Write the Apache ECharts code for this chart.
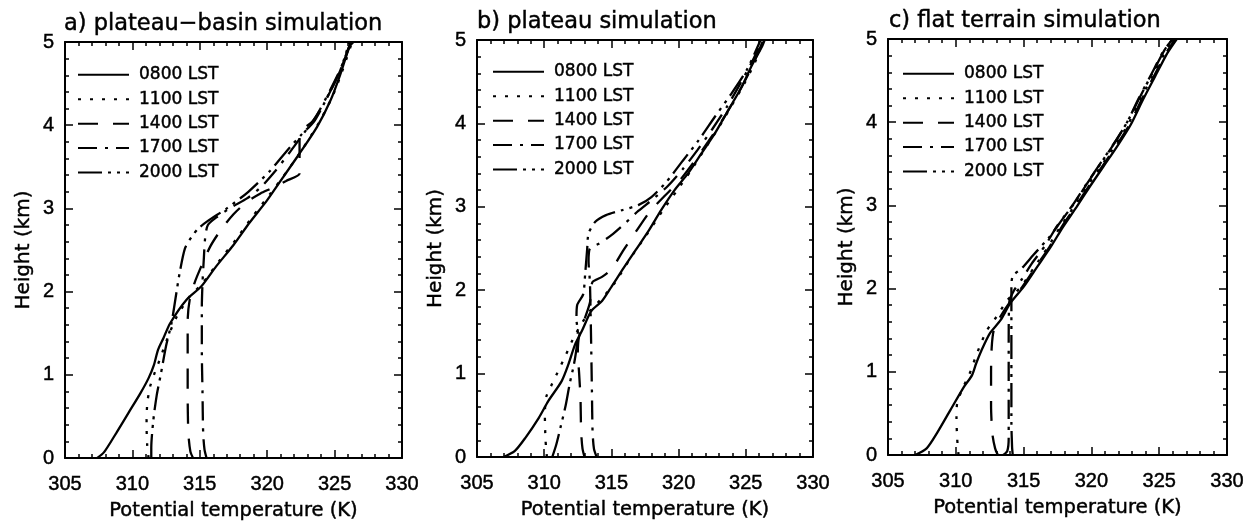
<!DOCTYPE html>
<html><head><meta charset="utf-8">
<script src="https://cdn.jsdelivr.net/npm/echarts@6/dist/echarts.min.js"></script>
<style>html,body{margin:0;padding:0;background:#fff}#c{width:1251px;height:523px}</style>
</head><body><div id="c"></div>
<script>
// ---------- data ----------
const times = ['0800 LST', '1100 LST', '1400 LST', '1700 LST', '2000 LST'];
const panelTitles = ['a) plateau\u2212basin simulation', 'b) plateau simulation', 'c) flat terrain simulation'];
const xTickLabels = [305, 310, 315, 320, 325, 330];
const yTickLabels = [0, 1, 2, 3, 4, 5];
const xName = 'Potential temperature (K)';
const yName = 'Height (km)';

// panel a : plateau-basin  [theta (K), height (km)]
const a0800 = [[307.4,0],[307.9,0.07],[308.8,0.3],[309.7,0.54],[310.6,0.78],[311.2,0.96],[311.6,1.12],[311.9,1.3],[312.3,1.44],[312.8,1.62],[314.0,1.9],[315.1,2.06],[316.2,2.3],[317.5,2.56],[318.7,2.83],[320.0,3.1],[321.2,3.38],[322.4,3.66],[323.7,3.98],[324.7,4.3],[325.4,4.6],[326.1,4.94],[326.4,5.0]];
const a1100 = [[311.2,0],[311.1,0.15],[311.05,0.4],[311.1,0.65],[311.3,0.85],[311.6,1.0],[312.0,1.17],[312.4,1.35],[312.8,1.52],[313.3,1.7],[314.2,1.93],[315.2,2.1],[316.4,2.36],[317.7,2.63],[318.9,2.9],[320.2,3.17],[321.4,3.43],[322.6,3.71],[323.8,4.02],[324.8,4.33],[325.5,4.62],[326.3,5.0]];
const a1400 = [[314.5,0],[314.3,0.08],[314.15,0.3],[314.1,0.8],[314.1,1.3],[314.1,1.65],[314.25,1.9],[314.6,2.1],[315.1,2.3],[315.8,2.55],[316.6,2.75],[317.5,2.93],[318.5,3.08],[319.5,3.18],[320.3,3.24],[321.4,3.33],[322.4,3.42],[322.4,3.6],[322.4,3.9],[323.4,4.05],[324.5,4.35],[325.4,4.65],[326.2,5.0]];
const a1700 = [[315.5,0],[315.35,0.1],[315.25,0.3],[315.2,0.8],[315.15,1.3],[315.15,1.8],[315.2,2.1],[315.3,2.4],[315.4,2.65],[315.6,2.8],[316.3,2.9],[317.4,3.02],[318.5,3.12],[319.5,3.25],[320.6,3.45],[321.7,3.68],[322.7,3.9],[323.6,4.1],[324.6,4.4],[325.5,4.7],[326.2,5.0]];
const a2000 = [[311.4,0],[311.4,0.12],[311.55,0.45],[311.8,0.75],[312.1,1.0],[312.5,1.35],[312.9,1.62],[313.2,1.92],[313.5,2.22],[313.9,2.52],[314.4,2.66],[314.9,2.76],[315.6,2.85],[317.0,3.0],[318.6,3.2],[320.2,3.45],[321.5,3.7],[322.5,3.88],[323.5,4.05],[324.5,4.35],[325.4,4.65],[326.1,5.0]];

// panel b : plateau
const b0800 = [[306.96,0],[307.8,0.07],[308.6,0.23],[309.6,0.47],[310.3,0.67],[311.3,0.91],[311.8,1.11],[312.3,1.35],[312.8,1.51],[313.5,1.75],[314.3,1.87],[315.0,2.04],[315.8,2.24],[316.8,2.48],[317.8,2.72],[318.7,2.96],[319.7,3.2],[320.7,3.4],[321.7,3.64],[322.7,3.88],[323.7,4.16],[324.7,4.44],[325.4,4.68],[326.2,4.92],[326.4,5.0]];
const b1100 = [[310.2,0],[310.1,0.2],[310.05,0.5],[310.15,0.72],[310.6,0.88],[311.1,1.05],[311.6,1.22],[312.1,1.4],[312.6,1.55],[313.4,1.75],[314.4,1.92],[315.3,2.1],[316.4,2.38],[317.6,2.66],[318.8,2.95],[319.9,3.2],[320.9,3.43],[321.9,3.68],[322.9,3.93],[323.9,4.2],[324.9,4.48],[325.7,4.74],[326.3,5.0]];
const b1400 = [[313.0,0],[312.85,0.1],[312.75,0.3],[312.7,0.7],[312.6,1.0],[312.5,1.25],[312.6,1.45],[313.0,1.65],[313.4,1.85],[313.5,2.0],[313.6,2.1],[314.3,2.16],[315.0,2.25],[315.9,2.48],[316.9,2.72],[317.9,2.95],[318.9,3.12],[320.0,3.3],[321.1,3.53],[322.2,3.78],[323.3,4.05],[324.4,4.35],[325.4,4.66],[326.3,5.0]];
const b1700 = [[313.9,0],[313.7,0.1],[313.6,0.3],[313.55,0.8],[313.5,1.3],[313.45,1.75],[313.4,2.1],[313.3,2.35],[313.4,2.5],[314.1,2.56],[315.0,2.66],[316.0,2.8],[317.0,2.95],[318.0,3.08],[319.2,3.25],[320.3,3.45],[321.4,3.68],[322.5,3.93],[323.6,4.2],[324.6,4.48],[325.5,4.75],[326.2,5.0]];
const b2000 = [[310.6,0],[310.9,0.15],[311.25,0.38],[311.6,0.62],[311.9,0.88],[312.2,1.1],[312.4,1.3],[312.5,1.5],[312.4,1.65],[312.45,1.82],[312.9,1.95],[313.05,2.2],[313.2,2.5],[313.3,2.68],[313.8,2.82],[314.6,2.9],[315.8,2.96],[317.0,3.02],[318.0,3.12],[319.1,3.3],[320.3,3.55],[321.5,3.8],[322.7,4.08],[323.9,4.35],[325.1,4.65],[326.1,5.0]];

// panel c : flat terrain
const c0800 = [[307.0,0],[307.85,0.08],[308.6,0.26],[309.6,0.54],[310.6,0.82],[311.2,0.96],[311.5,1.1],[311.9,1.26],[312.5,1.46],[313.3,1.62],[314.0,1.82],[315.0,2.02],[316.0,2.26],[317.0,2.5],[317.9,2.74],[318.9,2.98],[319.9,3.23],[320.9,3.47],[321.9,3.71],[322.9,3.97],[323.8,4.27],[324.7,4.55],[325.6,4.83],[326.3,5.0]];
const c1100 = [[310.2,0],[310.1,0.2],[310.05,0.45],[310.1,0.62],[310.5,0.8],[311.0,0.97],[311.4,1.15],[311.8,1.32],[312.3,1.5],[313.0,1.66],[313.8,1.86],[314.8,2.02],[315.8,2.26],[316.8,2.5],[317.7,2.74],[318.7,2.98],[319.7,3.23],[320.7,3.47],[321.7,3.71],[322.7,3.97],[323.6,4.27],[324.5,4.55],[325.4,4.83],[326.1,5.0]];
const c1400 = [[313.1,0],[312.9,0.08],[312.7,0.25],[312.6,0.6],[312.6,1.0],[312.65,1.3],[312.8,1.5],[313.2,1.64],[314.0,1.84],[314.9,2.02],[315.9,2.26],[316.9,2.5],[317.8,2.74],[318.8,2.98],[319.8,3.23],[320.8,3.47],[321.8,3.71],[322.8,3.97],[323.7,4.27],[324.6,4.55],[325.5,4.83],[326.2,5.0]];
const c1700 = [[313.5,0],[313.8,0.05],[313.9,0.2],[313.9,0.8],[313.9,1.4],[313.95,1.84],[314.3,1.98],[314.9,2.12],[315.6,2.3],[316.6,2.52],[317.5,2.76],[318.6,3.0],[319.6,3.25],[320.6,3.49],[321.6,3.73],[322.6,3.99],[323.5,4.29],[324.4,4.57],[325.3,4.85],[326.0,5.0]];
const c2000 = [[314.2,0],[314.15,0.1],[314.1,0.4],[314.1,1.0],[314.1,1.6],[314.1,2.0],[314.2,2.15],[314.9,2.25],[315.7,2.4],[316.9,2.62],[317.8,2.82],[318.8,3.04],[319.75,3.28],[320.75,3.52],[321.75,3.76],[322.7,4.02],[323.6,4.31],[324.5,4.59],[325.4,4.87],[326.0,5.0]];

const panelData = [
  [a0800, a1100, a1400, a1700, a2000],
  [b0800, b1100, b1400, b1700, b2000],
  [c0800, c1100, c1400, c1700, c2000]
];

// ---------- layout / style ----------
const FONT = 'DejaVu Sans';
const NUMFONT = 'Liberation Sans';
const grids = [
  {left: 65,  top: 42, width: 337, height: 416},
  {left: 477, top: 40, width: 336, height: 417},
  {left: 888, top: 39, width: 339, height: 416}
];
const legendPos = [{left: 77, top: 66}, {left: 492, top: 63}, {left: 902, top: 65}];
const titlePos = [{left: 64, top: 13}, {left: 477, top: 11}, {left: 889, top: 10}];
const dashTypes = ['solid', [3, 9], [20, 15], [19, 8, 3, 8], [24, 6, 3, 6, 3, 6]];

const bold = {textBorderColor: '#000', textBorderWidth: 0.45};
const axisLine = {show: true, onZero: false, lineStyle: {color: '#000', width: 2}};
const tickStyle = {color: '#000', width: 1.5};

const xAxes = [], yAxes = [], series = [], legends = [], titles = [];
grids.forEach((g, i) => {
  const xBase = {
    type: 'value', gridIndex: i, min: xTickLabels[0], max: xTickLabels[xTickLabels.length - 1], interval: 5,
    axisLine: axisLine, splitLine: {show: false},
    axisTick: {show: true, inside: true, length: 8, lineStyle: tickStyle},
    minorTick: {show: true, splitNumber: 5, length: 4, lineStyle: tickStyle}
  };
  xAxes.push(Object.assign({}, xBase, {
    position: 'bottom',
    axisLabel: Object.assign({show: true, color: '#000', fontSize: 20, fontFamily: NUMFONT, margin: 16}, bold),
    name: xName, nameLocation: 'middle', nameGap: 43,
    nameTextStyle: Object.assign({color: '#000', fontSize: 19.5, fontFamily: FONT}, bold)
  }));
  xAxes.push(Object.assign({}, xBase, {position: 'top', axisLabel: {show: false}}));
  const yBase = {
    type: 'value', gridIndex: i, min: yTickLabels[0], max: yTickLabels[yTickLabels.length - 1], interval: 1,
    axisLine: axisLine, splitLine: {show: false},
    axisTick: {show: true, inside: true, length: 8, lineStyle: tickStyle},
    minorTick: {show: true, splitNumber: 5, length: 4, lineStyle: tickStyle}
  };
  yAxes.push(Object.assign({}, yBase, {
    position: 'left',
    axisLabel: Object.assign({show: true, color: '#000', fontSize: 20, fontFamily: NUMFONT, margin: 11}, bold),
    name: yName, nameLocation: 'middle', nameGap: 31, nameRotate: 90,
    nameTextStyle: Object.assign({color: '#000', fontSize: 20, fontFamily: FONT}, bold)
  }));
  yAxes.push(Object.assign({}, yBase, {position: 'right', axisLabel: {show: false}}));

  panelData[i].forEach((d, j) => {
    series.push({
      type: 'line', name: times[j], xAxisIndex: 2 * i, yAxisIndex: 2 * i,
      data: d, symbol: 'none', showSymbol: false, smooth: 0.25, silent: true,
      lineStyle: {color: '#000', width: 2.3, type: dashTypes[j]},
      itemStyle: {color: '#000'}
    });
  });

  legends.push({
    left: legendPos[i].left, top: legendPos[i].top, orient: 'vertical', padding: 0,
    itemWidth: 51, itemHeight: 14, itemGap: 7, selectedMode: false,
    data: times,
    itemStyle: {color: 'rgba(0,0,0,0)', borderWidth: 0, opacity: 0},
    textStyle: Object.assign({color: '#000', fontSize: 17, fontFamily: FONT, padding: [0, 0, 0, 5]}, bold)
  });

  titles.push({
    text: panelTitles[i], left: titlePos[i].left, top: titlePos[i].top, padding: 0,
    textStyle: Object.assign({color: '#000', fontSize: 22.5, fontWeight: 'normal', fontFamily: FONT}, bold)
  });
});

const chart = echarts.init(document.getElementById('c'), null, {renderer: 'canvas'});
chart.setOption({
  backgroundColor: '#fff',
  animation: false,
  title: titles,
  legend: legends,
  grid: grids.map(g => Object.assign({containLabel: false, outerBoundsMode: 'none'}, g)),
  xAxis: xAxes,
  yAxis: yAxes,
  tooltip: {show: false},
  series: series
});
</script></body></html>
